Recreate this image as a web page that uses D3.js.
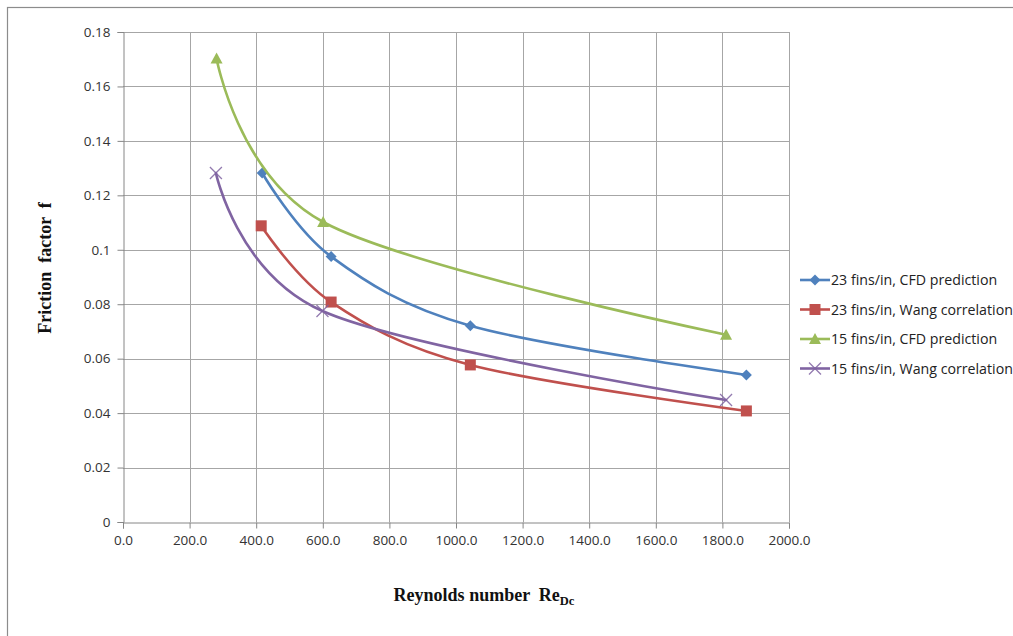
<!DOCTYPE html>
<html><head><meta charset="utf-8">
<script src="https://cdn.jsdelivr.net/npm/d3@7"></script>
<style>
html,body{margin:0;padding:0;background:#fff;}
svg{display:block;}
text{white-space:pre;}
</style></head>
<body>
<svg id="c" width="1013" height="636"></svg>
<script>
const seriesNames = ["23 fins/in, CFD prediction","23 fins/in, Wang correlation","15 fins/in, CFD prediction","15 fins/in, Wang correlation"];
const cfd23X = [418, 625, 1043, 1872];
const cfd23Y = [0.1282, 0.0975, 0.0721, 0.0540];
const wang23X = [415, 625, 1043, 1872];
const wang23Y = [0.1088, 0.0808, 0.0577, 0.0408];
const cfd15X = [281, 601, 1811];
const cfd15Y = [0.1703, 0.1102, 0.0688];
const wang15X = [279, 599, 1811];
const wang15Y = [0.1282, 0.0775, 0.0448];
const xTicks = [0,200,400,600,800,1000,1200,1400,1600,1800,2000];
const yTicks = [0,0.02,0.04,0.06,0.08,0.1,0.12,0.14,0.16,0.18];
const colors = ["#4F81BD","#C0504D","#9BBB59","#8064A2"];
const markers = ["diamond","square","triangle","cross"];

const svg = d3.select("#c");
const L = 123, R = 789, T = 32, B = 522;
const x = d3.scaleLinear().domain([0,2000]).range([L,R]);
const y = d3.scaleLinear().domain([0,0.18]).range([B,T]);

// frame
svg.append("rect").attr("x",7.5).attr("y",7.5).attr("width",1100).attr("height",700)
  .attr("fill","none").attr("stroke","#8c8c8c").attr("stroke-width",1.2);

// gridlines
const g = svg.append("g");
g.selectAll(".vg").data(xTicks.slice(1)).join("line")
  .attr("x1",d=>Math.round(x(d))+0.5).attr("x2",d=>Math.round(x(d))+0.5)
  .attr("y1",T).attr("y2",B).attr("stroke","#a6a6a6").attr("stroke-width",1);
g.selectAll(".hg").data(yTicks.slice(1)).join("line")
  .attr("y1",d=>Math.round(y(d))+0.5).attr("y2",d=>Math.round(y(d))+0.5)
  .attr("x1",L).attr("x2",R).attr("stroke","#a6a6a6").attr("stroke-width",1);

// axes
const fmtY = d => d===0 ? "0" : String(+d.toFixed(2));
const yAxis = d3.axisLeft(y).tickValues(yTicks).tickFormat(fmtY).tickSize(6).tickPadding(7);
const xAxis = d3.axisBottom(x).tickValues(xTicks).tickFormat(d=>d.toFixed(1)).tickSize(6).tickPadding(7);
const ya = svg.append("g").attr("transform",`translate(${L+0.5},0)`).call(yAxis);
const xa = svg.append("g").attr("transform",`translate(0,${B+0.5})`).call(xAxis);
[ya,xa].forEach(a=>{
  a.select(".domain").attr("stroke","#868686");
  a.selectAll(".tick line").attr("stroke","#868686");
  a.selectAll("text").attr("fill","#333").style("font-family","'Open Sans', sans-serif").style("font-size","13.5px");
});

// series
const data = [
  {xs:cfd23X, ys:cfd23Y},
  {xs:wang23X, ys:wang23Y},
  {xs:cfd15X, ys:cfd15Y},
  {xs:wang15X, ys:wang15Y}
];
const line = d3.line().x(d=>x(d[0])).y(d=>y(d[1])).curve(d3.curveCardinal.tension(0));

function drawMarker(sel, type, color){
  if(type==="diamond"){
    sel.append("path").attr("d","M0,-5.5L5.5,0L0,5.5L-5.5,0Z").attr("fill",color);
  } else if(type==="square"){
    sel.append("rect").attr("x",-5.5).attr("y",-5.5).attr("width",11).attr("height",11).attr("fill",color);
  } else if(type==="triangle"){
    sel.append("path").attr("d","M0,-6L6,5L-6,5Z").attr("fill",color);
  } else {
    sel.append("path").attr("d","M-6,-6L6,6M-6,6L6,-6").attr("stroke",color).attr("stroke-width",1.3).attr("fill","none").attr("opacity",0.85);
  }
}

data.forEach((s,i)=>{
  const pts = s.xs.map((v,j)=>[v,s.ys[j]]);
  svg.append("path").datum(pts).attr("d",line).attr("fill","none")
    .attr("stroke",colors[i]).attr("stroke-width",2.6).attr("stroke-linecap","round");
  pts.forEach(p=>{
    const m = svg.append("g").attr("transform",`translate(${x(p[0])},${y(p[1])})`);
    drawMarker(m, markers[i], colors[i]);
  });
});

// legend
const lg = svg.append("g");
seriesNames.forEach((n,i)=>{
  const yy = 280 + i*29.5;
  lg.append("line").attr("x1",800).attr("x2",830).attr("y1",yy).attr("y2",yy)
    .attr("stroke",colors[i]).attr("stroke-width",2.6);
  const m = lg.append("g").attr("transform",`translate(815,${yy})`);
  drawMarker(m, markers[i], colors[i]);
  lg.append("text").attr("x",831).attr("y",yy+5).text(n)
    .attr("fill","#222").style("font-family","'Open Sans', sans-serif").style("font-size","14.2px");
});

// axis titles
svg.append("text").attr("transform","translate(51,268) rotate(-90)")
  .attr("text-anchor","middle").attr("fill","#111")
  .style("font-family","'Liberation Serif', serif").style("font-weight","bold").style("font-size","18px")
  .text("Friction  factor  f");
const xt = svg.append("text").attr("x",484).attr("y",601).attr("text-anchor","middle").attr("fill","#111")
  .style("font-family","'Liberation Serif', serif").style("font-weight","bold").style("font-size","18px");
xt.append("tspan").text("Reynolds number  Re");
xt.append("tspan").attr("dy",4).style("font-size","12.5px").text("Dc");
</script>
</body></html>
